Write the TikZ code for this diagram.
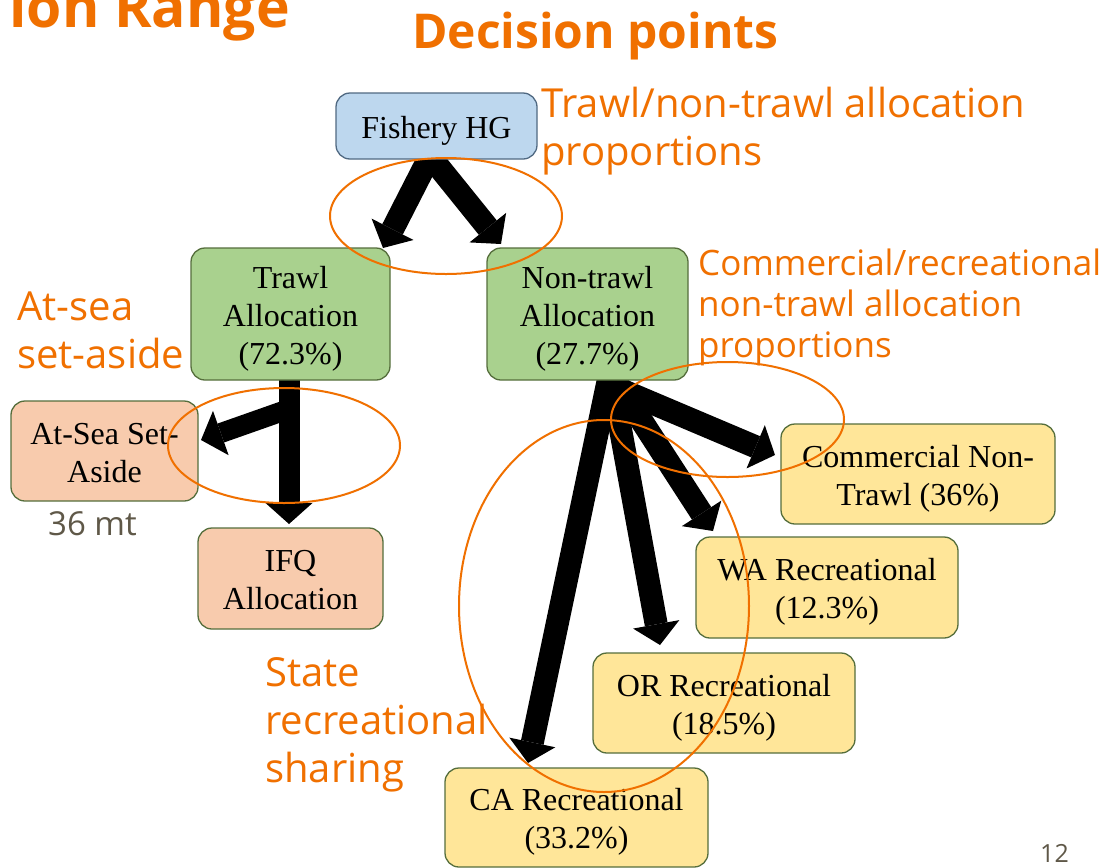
\documentclass[tikz,border=0pt]{standalone}
\usepackage{fontspec}
\setmainfont{Liberation Serif}
\newfontfamily\osans{Open Sans}
\usetikzlibrary{arrows.meta,backgrounds}
\definecolor{orng}{RGB}{240,112,0}
\definecolor{bluef}{HTML}{BDD7EE}
\definecolor{bluee}{RGB}{80,105,130}
\definecolor{greenf}{HTML}{A9D18E}
\definecolor{greene}{RGB}{85,110,60}
\definecolor{peachf}{HTML}{F8CBAD}
\definecolor{yellf}{HTML}{FFE699}
\definecolor{grayt}{RGB}{95,88,72}
\newcommand\bxtop{\rule{0pt}{31pt}}
\newcommand\bxbot{\rule[-7pt]{0pt}{7pt}}
\begin{document}
\begin{tikzpicture}[x=1pt,y=-1pt,
  box/.style={draw=greene, line width=1.3pt, rounded corners=14pt, align=center,
    inner sep=0pt, font=\fontsize{32}{38}\selectfont, text=black},
  bigarrow/.style={line width=23pt, -{Triangle[length=21pt,width=47pt,line width=0pt]}},
  note/.style={text=orng, font=\osans\fontsize{40}{48}\selectfont, align=left, inner sep=0pt},
  ring/.style={draw=orng, line width=2pt}
]
\useasboundingbox (0,0) rectangle (1104,868);
\clip (0,0) rectangle (1104,868);

% titles
\node[text=orng, font=\osans\bfseries\fontsize{57}{66}\selectfont, anchor=base east, inner sep=0pt] (title) at (290,27) {ion Range};
\node[text=orng, font=\osans\bfseries\fontsize{48}{56}\selectfont, anchor=base west, inner sep=0pt] (dp) at (412,48) {Decision points};

% boxes
\node[box, fill=bluef, draw=bluee, minimum width=201pt, minimum height=66pt] (fish) at (436.5,126) {\bxtop Fishery HG\bxbot};
\node[box, fill=greenf, minimum width=199pt, minimum height=132pt] (trawl) at (290.5,314) {\bxtop Trawl\\Allocation\\(72.3\%)\bxbot};
\node[box, fill=greenf, minimum width=201pt, minimum height=132pt] (nontrawl) at (587.5,314) {\bxtop Non-trawl\\Allocation\\(27.7\%)\bxbot};
\node[box, fill=peachf, minimum width=187pt, minimum height=100pt] (atsea) at (104.5,451) {\bxtop At-Sea Set-\\Aside\bxbot};
\node[box, fill=peachf, minimum width=185pt, minimum height=101pt] (ifq) at (290.5,578.5) {\bxtop IFQ\\Allocation\bxbot};
\node[box, fill=yellf, minimum width=274pt, minimum height=100pt] (comm) at (918,474) {\bxtop Commercial Non-\\Trawl (36\%)\bxbot};
\node[box, fill=yellf, minimum width=262pt, minimum height=101pt] (wa) at (827,587.5) {\bxtop WA Recreational\\(12.3\%)\bxbot};
\node[box, fill=yellf, minimum width=262pt, minimum height=100pt] (or) at (724,703) {\bxtop OR Recreational\\(18.5\%)\bxbot};
\node[box, fill=yellf, minimum width=263pt, minimum height=99pt] (ca) at (576.5,817.5) {\bxtop CA Recreational\\(33.2\%)\bxbot};

% arrow end points
\coordinate (fsrc) at (430,156);
\coordinate (tTrawl) at (383,248);
\coordinate (tNon) at (501,244);
\coordinate (trsrc) at (289,372);
\coordinate (trmid) at (289,409);
\coordinate (tIfq) at (289,524);
\coordinate (tSea) at (201,440);
\coordinate (nsrc) at (610,372);
\coordinate (csrc) at (612,386);
\coordinate (tComm) at (775,455);
\coordinate (tWa) at (713,531);
\coordinate (tOr) at (660,645);
\coordinate (tCa) at (528,763);

\begin{scope}[on background layer]
\fill[white] (0,0) rectangle (1104,868);
\draw[bigarrow] (fsrc) -- (tTrawl);
\draw[bigarrow] (fsrc) -- (tNon);
\draw[bigarrow, line width=21pt] (trsrc) -- (tIfq);
\draw[bigarrow, line width=20pt] (trmid) -- (tSea);
\draw[bigarrow] (csrc) -- (tComm);
\draw[bigarrow] (nsrc) -- (tWa);
\draw[bigarrow] (nsrc) -- (tOr);
\draw[bigarrow] (nsrc) -- (tCa);
\end{scope}

% notes (base anchor = last line)
\node[note, anchor=base west] (n1) at (541,165) {Trawl/non-trawl allocation\\proportions};
\node[note, anchor=base west, font=\osans\fontsize{35}{41}\selectfont] (n2) at (698,357) {Commercial/recreational\\non-trawl allocation\\proportions};
\node[note, anchor=base west] (n3) at (17,368) {At-sea\\set-aside};
\node[note, anchor=base west] (n4) at (265,782) {State\\recreational\\sharing};
\node[text=grayt, font=\osans\fontsize{33}{38}\selectfont, anchor=base west, inner sep=0pt] (mt) at (48,535) {36 mt};
\node[text=grayt, font=\osans\fontsize{25}{30}\selectfont, anchor=base west, inner sep=0pt] (pg) at (1040,862) {12};

% decision rings
\draw[ring] (446,216) ellipse [x radius=116pt, y radius=58pt];
\draw[ring] (284,445.5) ellipse [x radius=116pt, y radius=57.5pt];
\draw[ring] (727.5,419.5) ellipse [x radius=116.5pt, y radius=57.5pt];
\draw[ring] (604,606) ellipse [x radius=145pt, y radius=186pt];
\end{tikzpicture}
\end{document}
